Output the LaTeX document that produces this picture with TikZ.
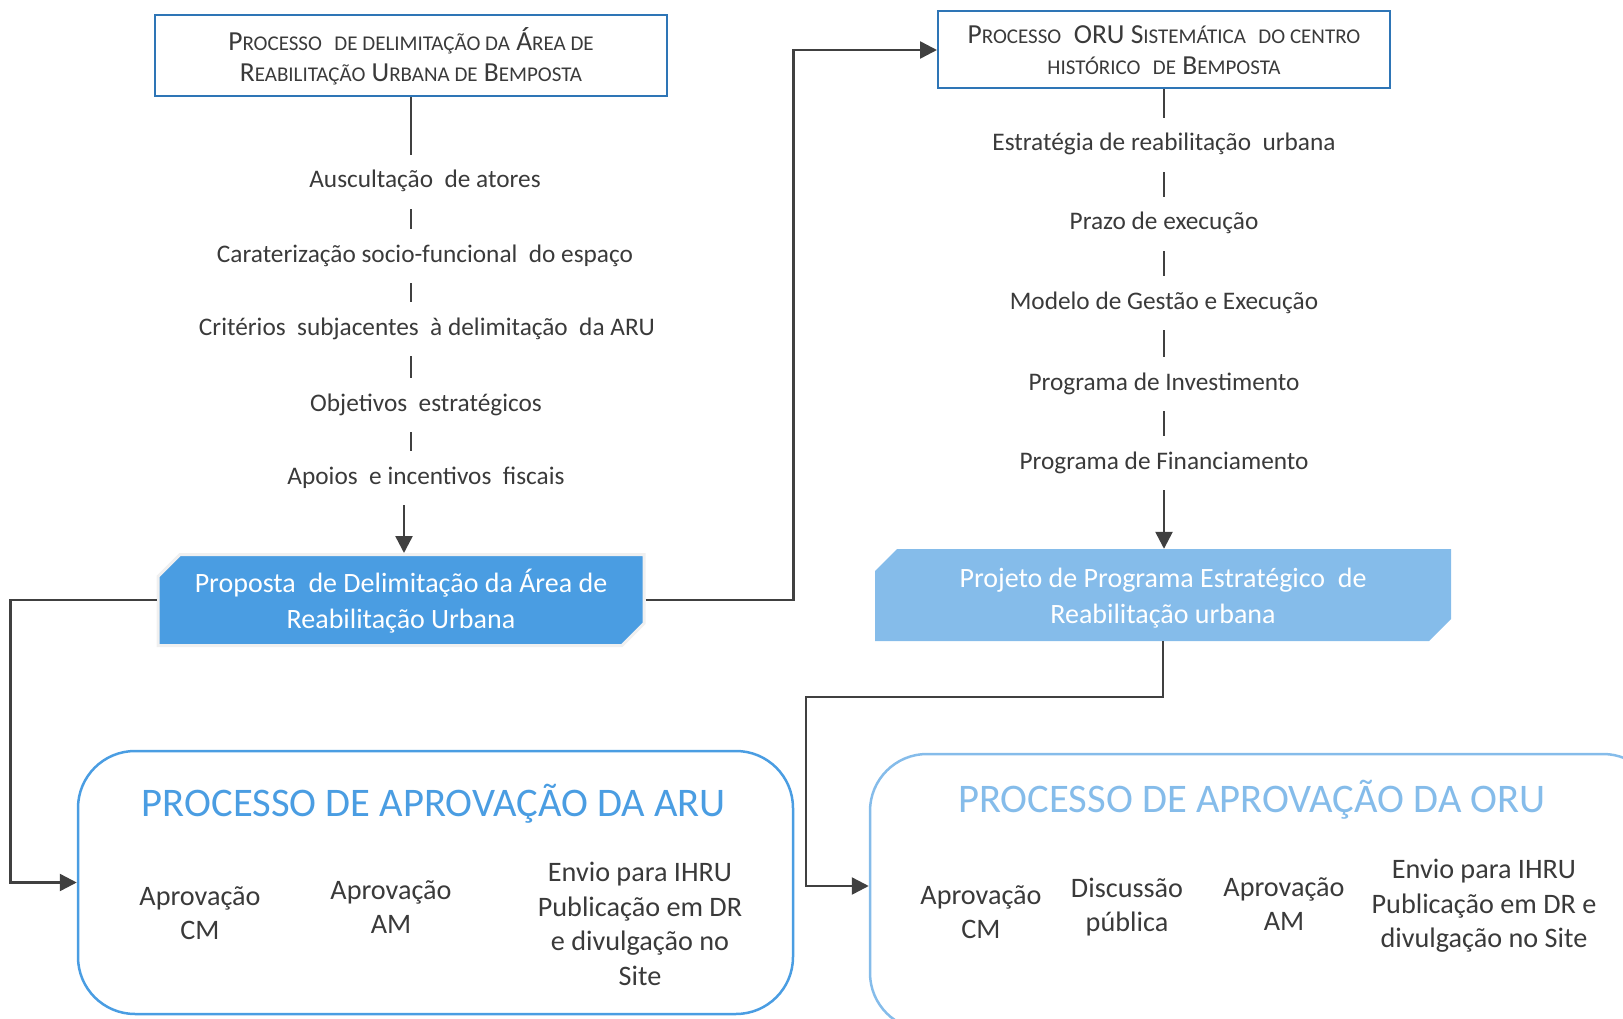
\documentclass[tikz,border=0pt]{standalone}
\usepackage{fontspec}
\setmainfont{Carlito}
\usetikzlibrary{arrows.meta,shapes.misc}
\definecolor{frameblue}{HTML}{2E75B6}
\definecolor{darkfill}{HTML}{4A9DE2}
\definecolor{lightfill}{HTML}{85BCEA}
\definecolor{linegray}{HTML}{404040}
\definecolor{txtgray}{HTML}{3A3A3A}
% versaletes feitas a mao
\newcommand{\vsc}[2]{#1{\fontsize{21}{31}\selectfont #2}}

\begin{document}
\begin{tikzpicture}[x=1pt,y=-1pt,
  topbox/.style={draw=frameblue, line width=2pt, align=center, text=txtgray, font=\fontsize{27.5}{31}\selectfont},
  item/.style={text=txtgray, font=\fontsize{25.3}{29}\selectfont, text height=18pt, text depth=6pt, inner ysep=15pt},
  cutbox/.style={chamfered rectangle, chamfered rectangle corners={north west,south east}, chamfered rectangle xsep=12pt, chamfered rectangle ysep=10pt, inner ysep=0pt, text=white, align=center, font=\fontsize{28}{36}\selectfont},
  roundbox/.style={line width=2.5pt, rounded corners=57pt},
  title/.style={font=\fontsize{40.6}{48}\selectfont},
  stage/.style={align=center, text=txtgray, font=\fontsize{28.2}{34.5}\selectfont},
  link/.style={linegray, line width=2.5pt},
  arr/.style={link, -{Triangle[length=17pt,width=17pt]}}]
\useasboundingbox (0,0) rectangle (1623,1019);
% Coluna ARU
\node[topbox, minimum width=512, minimum height=81] (ldelim) at (411,56)
  {\vsc{P}{ROCESSO} \ \vsc{}{DE DELIMITAÇÃO DA} \vsc{Á}{REA DE}\\
   \vsc{R}{EABILITAÇÃO} \vsc{U}{RBANA DE} \vsc{B}{EMPOSTA}};
\node[item] (ausc) at (425,182) {Auscultação \ de atores};
\node[item] (carat) at (425,256) {Caraterização socio-funcional \ do espaço};
\node[item] (crit) at (427,329) {Critérios \ subjacentes \ à delimitação \ da ARU};
\node[item] (objet) at (426,405) {Objetivos \ estratégicos};
\node[item] (apoio) at (426,478) {Apoios \ e incentivos \ fiscais};
\node[cutbox, fill=darkfill, draw=gray!12, line width=3pt, minimum width=486, minimum height=91] (proparu) at (401,600)
  {\rule{0pt}{25pt}Proposta \ de Delimitação da Área de\\ Reabilitação Urbana};
\draw[link] (ldelim.south) -- (ausc.north -| ldelim.south);
\foreach \a/\b in {ausc/carat, carat/crit, crit/objet, objet/apoio}
  \draw[link] (\a.south -| ldelim.south) -- (\b.north -| ldelim.south);
\draw[arr] ([xshift=-7pt]apoio.south -| ldelim.south) -- ([xshift=-7pt]proparu.north -| ldelim.south);
% Coluna ORU
\node[topbox, minimum width=452, minimum height=77] (orutop) at (1164,50)
  {\vsc{P}{ROCESSO} \ ORU \vsc{S}{ISTEMÁTICA} \ \vsc{}{DO CENTRO}\\
   \vsc{}{HISTÓRICO} \ \vsc{}{DE} \vsc{B}{EMPOSTA}};
\node[item] (estrat) at (1164,145) {Estratégia de reabilitação \ urbana};
\node[item] (prazo) at (1164,224) {Prazo de execução};
\node[item] (modelo) at (1164,303) {Modelo de Gestão e Execução};
\node[item] (invest) at (1164,384) {Programa de Investimento};
\node[item] (financ) at (1164,463) {Programa de Financiamento};
\node[cutbox, fill=lightfill, minimum width=576, minimum height=92] (projoru) at (1163,595)
  {\rule{0pt}{25pt}Projeto de Programa Estratégico \ de\\ Reabilitação urbana};
\draw[link] (orutop.south) -- (estrat.north -| orutop.south);
\foreach \a/\b in {estrat/prazo, prazo/modelo, modelo/invest, invest/financ}
  \draw[link] (\a.south -| orutop.south) -- (\b.north -| orutop.south);
\draw[arr] (financ.south -| orutop.south) -- (projoru.north -| orutop.south);
% Processos de aprovacao
\node[roundbox, draw=darkfill, minimum width=715, minimum height=263] (arubox) at (435.5,882.5) {};
\node[title, text=darkfill] (arutitle) at (434,804) {PROCESSO DE APROVAÇÃO DA ARU};
\node[stage] (arucm) at (200,913) {Aprovação\\ CM};
\node[stage] (aruam) at (391,907) {Aprovação\\ AM};
\node[stage] (aruenv) at (640,924) {Envio para IHRU\\ Publicação em DR\\ e divulgação no\\ Site};
\node[roundbox, draw=lightfill, minimum width=790, minimum height=276] (orubox) at (1265,892) {};
\node[title, text=lightfill] (orutitle) at (1252,800) {PROCESSO DE APROVAÇÃO DA ORU};
\node[stage] (orucm) at (981,912) {Aprovação\\ CM};
\node[stage] (orudisc) at (1127,907) {Discussão\\ pública};
\node[stage] (oruam) at (1284,904) {Aprovação\\ AM};
\node[stage] (oruenv) at (1484,906) {Envio para IHRU\\ Publicação em DR e\\ divulgação no Site};
% Ligacoes
\draw[arr] (proparu.west) -- ++(-146,0) |- (arubox.west);
\draw[arr] (proparu.east) -- ++(148,0) |- (orutop.west);
\draw[arr] (projoru.south) -- ++(0,56) -- ++(-357,0) |- ([yshift=6pt]orubox.west);
\end{tikzpicture}
\end{document}
